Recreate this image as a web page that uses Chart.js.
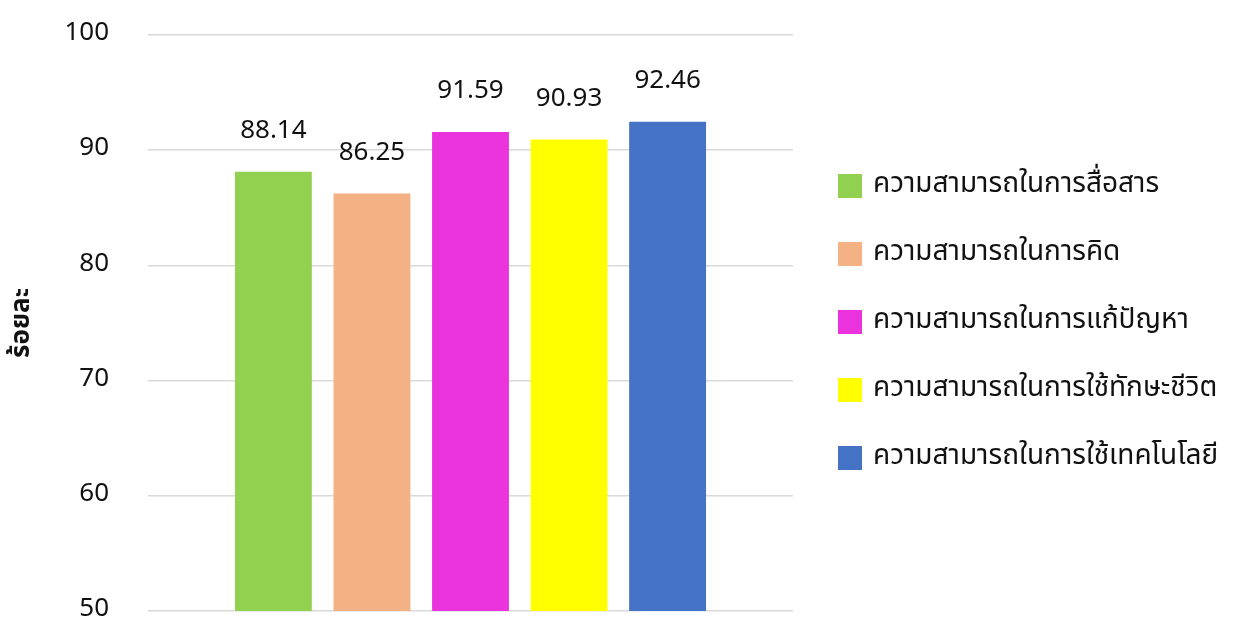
<!DOCTYPE html>
<html>
<head>
<meta charset="utf-8">
<script src="https://cdn.jsdelivr.net/npm/chart.js@4"></script>
<style>
  html, body { margin: 0; padding: 0; background: #fff; }
  #wrap { width: 1242px; height: 619px; }
</style>
</head>
<body>
<div id="wrap"><canvas id="chart" width="1242" height="619"></canvas></div>
<script>
// Data
const skills = [
    "ความสามารถในการสื่อสาร",
    "ความสามารถในการคิด",
    "ความสามารถในการแก้ปัญหา",
    "ความสามารถในการใช้ทักษะชีวิต",
    "ความสามารถในการใช้เทคโนโลยี",
];
const percents = [88.14, 86.25, 91.59, 90.93, 92.46];
const colors = ["#92D050", "#F4B183", "#EB33DD", "#FFFF00", "#4472C4"];
const yTitle = "ร้อยละ";

const FONT = "Tahoma, 'Noto Sans Thai', 'Leelawadee UI', 'DejaVu Sans', sans-serif";

// value labels above each bar
const valueLabels = {
    id: "valueLabels",
    afterDatasetsDraw(chart) {
        const ctx = chart.ctx;
        ctx.save();
        ctx.font = "26px " + FONT;
        ctx.fillStyle = "#111";
        ctx.textAlign = "center";
        ctx.textBaseline = "bottom";
        chart.data.datasets.forEach((ds, i) => {
            const bar = chart.getDatasetMeta(i).data[0];
            ctx.fillText(ds.data[0].toFixed(2), bar.x, bar.y - 26);
        });
        ctx.restore();
    },
};

// legend on the right, one row per dataset
const sideLegend = {
    id: "sideLegend",
    afterDraw(chart) {
        const ctx = chart.ctx;
        const x0 = chart.chartArea.right + 45;
        ctx.save();
        ctx.font = "28px " + FONT;
        ctx.textAlign = "left";
        ctx.textBaseline = "middle";
        chart.data.datasets.forEach((ds, i) => {
            const y = 186 + i * 68;
            ctx.fillStyle = ds.backgroundColor;
            ctx.fillRect(x0, y - 12, 24, 24);
            ctx.fillStyle = "#111";
            ctx.fillText(ds.label, x0 + 35, y);
        });
        ctx.restore();
    },
};

new Chart(document.getElementById("chart"), {
    type: "bar",
    data: {
        labels: [""],
        datasets: skills.map((s, i) => ({
            label: s,
            data: [percents[i]],
            backgroundColor: colors[i],
            categoryPercentage: 0.764,
            barPercentage: 0.78,
        })),
    },
    options: {
        responsive: false,
        animation: false,
        layout: { padding: { top: 35, bottom: 8, right: 449, left: 0 } },
        plugins: {
            legend: { display: false },
            tooltip: { enabled: false },
        },
        scales: {
            x: { display: false },
            y: {
                min: 50,
                max: 100,
                ticks: {
                    stepSize: 10,
                    padding: 39,
                    color: "#111",
                    font: { family: FONT, size: 26 },
                },
                grid: { color: "#d9d9d9", lineWidth: 1.5, drawTicks: false },
                border: { display: false },
                title: {
                    display: true,
                    text: yTitle,
                    color: "#111",
                    font: { family: FONT, size: 26, weight: "bold" },
                    padding: { top: 8, bottom: 0 },
                },
                afterFit(scale) {
                    scale.width = 148;
                    scale.paddingTop = 0;
                    scale.paddingBottom = 0;
                },
            },
        },
    },
    plugins: [valueLabels, sideLegend],
});
</script>
</body>
</html>
